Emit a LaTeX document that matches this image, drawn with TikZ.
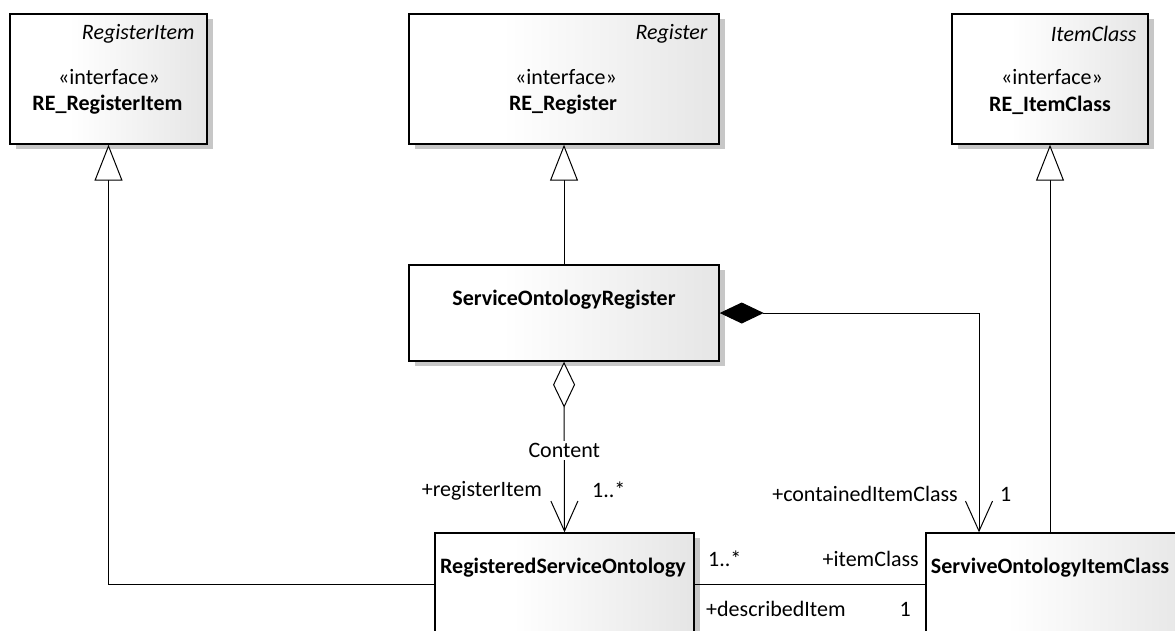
\documentclass[tikz,border=0pt]{standalone}
\usepackage{fontspec}
\setmainfont{Carlito}
\usetikzlibrary{arrows.meta,shadows,calc}
\pgfdeclarehorizontalshading{boxshade}{100bp}{color(0bp)=(white); color(25bp)=(white); color(40bp)=(white); color(75bp)=(black!10); color(100bp)=(black!10)}
\tikzset{
  umlbox/.style={draw=black, line width=1.4pt, shading=boxshade, inner sep=0pt,
    drop shadow={shadow xshift=6pt, shadow yshift=-5pt, fill=black!22, opacity=1}},
  txt/.style={inner sep=0pt, font=\fontsize{22}{26}\selectfont},
  nm/.style={txt, font=\fontsize{22}{26}\selectfont\bfseries},
  stereo/.style={txt, font=\fontsize{22}{26}\selectfont\itshape},
  conn/.style={draw=black, line width=1pt},
  gen/.style={conn, -{Triangle[open, fill=white, width=28pt, length=36pt, line width=1pt]}},
  compo/.style={conn, {Diamond[width=21pt, length=44pt]}-{Straight Barb[width=27pt, length=30pt, line width=1pt]}},
  aggr/.style={conn, {Diamond[open, fill=white, width=22pt, length=46pt, line width=1pt]}-{Straight Barb[width=27pt, length=30pt, line width=1pt]}},
  assoc/.style={conn},
  lbl/.style={txt, fill=white, inner sep=2pt}
}
\begin{document}
\begin{tikzpicture}[x=1pt, y=-1pt]
\useasboundingbox (0,0) rectangle (1175,630);
\clip (0,0) rectangle (1175,630);

% interface boxes
\node[umlbox, minimum width=197pt, minimum height=130pt] (ri) at (108.5,79) {};
\node[umlbox, minimum width=310pt, minimum height=130pt] (rr) at (564,79) {};
\node[umlbox, minimum width=196pt, minimum height=130pt] (ic) at (1050,79) {};

\node[stereo, anchor=east] (riA) at ($(ri.north east)+(-13,21)$) {RegisterItem};
\node[txt] (riS) at (109,77) {«interface»};
\node[nm] (riN) at (107.5,105) {RE\_RegisterItem};

\node[stereo, anchor=east] (rrA) at ($(rr.north east)+(-12,21)$) {Register};
\node[txt] (rrS) at (566,77) {«interface»};
\node[nm] (rrN) at (563,105) {RE\_Register};

\node[stereo, anchor=east] (icA) at ($(ic.north east)+(-12,21)$) {ItemClass};
\node[txt] (icS) at (1052,77) {«interface»};
\node[nm] (icN) at (1050,105) {RE\_ItemClass};

% classes
\node[umlbox, minimum width=310pt, minimum height=96pt] (sor) at (564,313) {};
\node[nm] (sorN) at (564,300) {ServiceOntologyRegister};

\node[umlbox, minimum width=259pt, minimum height=102pt] (rso) at (564.5,584) {};
\node[nm] (rsoN) at (563,568) {RegisteredServiceOntology};

\node[umlbox, minimum width=270pt, minimum height=102pt] (soic) at (1061,584) {};
\node[nm] (soicN) at (1050,568) {ServiveOntologyItemClass};

% generalizations
\draw[gen] (sor.north) -- (rr.south);
\draw[gen] (rso.west) -| (ri.south);
\draw[gen] (soic.north -| ic.south) -- (ic.south);

% composition
\coordinate (cbend) at (979,313);
\draw[compo] (sor.east) -- (cbend) -- (cbend |- soic.north);

% aggregation
\draw[aggr] (sor.south) -- node[lbl, pos=0.52] (content) {Content} (rso.north);

% association
\draw[assoc] (rso.east) -- (soic.west);

% role labels
\node[txt, anchor=east] (l1) at (542,491) {+registerItem};
\node[txt, anchor=west] (l2) at (592,490) {1..*};
\node[txt, anchor=east] (l3) at (958,494) {+containedItemClass};
\node[txt, anchor=west] (l4) at (1000,494) {1};
\node[txt, anchor=west] (l5) at (708,559) {1..*};
\node[txt, anchor=east] (l6) at (919,559) {+itemClass};
\node[txt, anchor=west] (l7) at (706,609) {+describedItem};
\node[txt, anchor=east] (l8) at (911,609) {1};
\end{tikzpicture}
\end{document}
